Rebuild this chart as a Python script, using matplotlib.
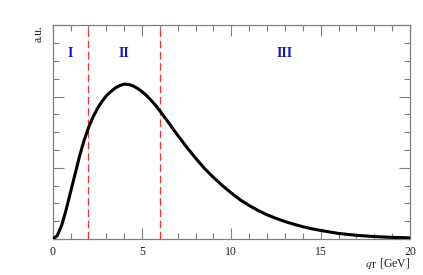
import matplotlib
matplotlib.use("Agg")
import matplotlib.pyplot as plt
from matplotlib.ticker import MultipleLocator, NullFormatter

plt.rcParams['font.family'] = ['Liberation Serif', 'DejaVu Serif']
plt.rcParams['mathtext.fontset'] = 'stix'

# Data
qT = [0, 0.25, 0.5, 0.75, 1.0, 1.25, 1.5, 1.75, 2.0, 2.25, 2.5, 2.75, 3.0,
      3.25, 3.5, 3.75, 4.0, 4.25, 4.5, 4.75, 5.0, 5.25, 5.5, 5.75, 6.0, 6.25,
      6.5, 6.75, 7.0, 7.5, 8.0, 8.5, 9.0, 9.5, 10.0, 10.5, 11.0, 11.5, 12.0,
      12.5, 13.0, 13.5, 14.0, 14.5, 15.0, 16.0, 17.0, 18.0, 19.0, 20.0]
dist = [0.0, 0.045, 0.19, 0.41, 0.66, 0.91, 1.16, 1.38, 1.56, 1.71, 1.83,
        1.93, 2.01, 2.07, 2.12, 2.155, 2.175, 2.17, 2.15, 2.115, 2.07, 2.015,
        1.95, 1.88, 1.80, 1.715, 1.63, 1.54, 1.455, 1.29, 1.135, 0.99, 0.865,
        0.75, 0.645, 0.55, 0.47, 0.40, 0.34, 0.29, 0.245, 0.207, 0.173,
        0.144, 0.12, 0.078, 0.052, 0.034, 0.023, 0.016]
boundaries = [2, 6]
region_labels = ["I", "II", "III"]
region_x = [1.0, 4.0, 13.0]
region_y = 2.61

fig = plt.figure(figsize=(4.23, 2.75), dpi=100)
ax = fig.add_axes([0.1246, 0.1309, 0.9693 - 0.1246, 0.9076 - 0.1309])

ax.plot(qT, dist, color='black', lw=2.2, solid_capstyle='round',
        solid_joinstyle='round', zorder=3)
for b in boundaries:
    ax.axvline(b, color='#ff2a2a', lw=0.9, ls=(0, (6, 3)), zorder=2)
for lab, x in zip(region_labels, region_x):
    ax.text(x, region_y, lab, color='#1414c8', fontweight='bold', fontsize=10,
            ha='center', va='center')

ax.set_xlim(0, 20)
ax.set_ylim(0, 3)
ax.xaxis.set_major_locator(MultipleLocator(5))
ax.xaxis.set_minor_locator(MultipleLocator(1))
ax.yaxis.set_major_locator(MultipleLocator(1))
ax.yaxis.set_minor_locator(MultipleLocator(0.25))
ax.yaxis.set_major_formatter(NullFormatter())

gray = '#808080'
for s in ax.spines.values():
    s.set_color(gray)
    s.set_linewidth(0.9)
ax.tick_params(which='both', direction='in', top=True, right=True, color=gray,
               width=0.8)
ax.tick_params(which='major', length=8, pad=5, labelsize=8.5, labelcolor='#222222')
ax.tick_params(which='minor', length=4)

ax.text(-0.04, 1.0, 'a.u.', transform=ax.transAxes, rotation=90,
        ha='center', va='top', fontsize=8.5, color='#222222')
ax.text(1.0, -0.115, r'$q_{\mathrm{T}}$ [GeV]', transform=ax.transAxes,
        ha='right', va='center', fontsize=8.5, color='#222222')

fig.savefig('out.png', dpi=100)
